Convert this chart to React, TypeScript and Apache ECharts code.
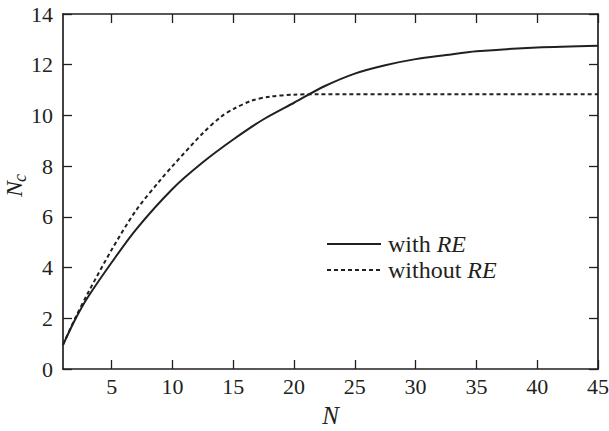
import React, { useEffect, useRef } from "react";
import * as echarts from "echarts";

const nWith = [1, 2, 3, 5, 7, 10, 12.5, 15, 17.5, 20, 22.5, 25, 27.5, 30, 32.5, 35, 40, 45];
const withRE = [0.95, 1.95, 2.8, 4.2, 5.5, 7.1, 8.15, 9.05, 9.85, 10.5, 11.15, 11.65, 11.98, 12.22, 12.38, 12.53, 12.68, 12.75];
const nWithout = [1, 2, 3, 5, 7, 9, 10, 12.5, 14, 15, 16.5, 18, 20, 22, 30, 45];
const withoutRE = [0.95, 2.0, 2.95, 4.7, 6.25, 7.45, 8.0, 9.3, 9.95, 10.25, 10.58, 10.74, 10.82, 10.84, 10.84, 10.84];
const xTicks = [5, 10, 15, 20, 25, 30, 35, 40, 45];
const seriesNames = ["with RE", "without RE"];

const FONT = "Times New Roman";
const INK = "#231f20";

export default function App() {
  const ref = useRef<HTMLDivElement>(null);
  useEffect(() => {
    if (!ref.current) return;
    const chart = echarts.init(ref.current, undefined, { renderer: "svg" });
    const axisLine = { show: true, onZero: false, lineStyle: { color: INK, width: 1.7 } };
    const tick = { show: true, inside: true, length: 9, lineStyle: { color: INK, width: 1.3 } };
    chart.setOption({
      animation: false,
      backgroundColor: "#fff",
      textStyle: { fontFamily: FONT, color: INK },
      grid: { left: 63, right: 11, top: 14, bottom: 62, outerBoundsMode: "none", containLabel: false },
      legend: {
        orient: "vertical",
        left: 321,
        top: 227,
        itemWidth: 54,
        itemHeight: 14,
        itemGap: 2,
        itemStyle: { color: "rgba(0,0,0,0)", borderColor: "rgba(0,0,0,0)", borderWidth: 0, opacity: 0 },
        data: seriesNames,
        textStyle: {
          fontFamily: FONT,
          fontSize: 24,
          color: INK,
          lineHeight: 24,
          padding: [0, 0, 0, 2],
          rich: { i: { fontFamily: FONT, fontSize: 24, fontStyle: "italic", color: INK, lineHeight: 24 } },
        },
        formatter: (name: string) => name.replace("RE", "{i|RE}"),
      },
      xAxis: [
        {
          type: "value",
          min: 1,
          max: 45,
          position: "bottom",
          name: "N",
          nameLocation: "middle",
          nameGap: 34,
          nameTextStyle: { fontFamily: FONT, fontSize: 25, fontStyle: "italic", color: INK },
          axisLine,
          axisTick: { ...tick, customValues: xTicks },
          axisLabel: { customValues: xTicks, fontFamily: FONT, fontSize: 22, color: INK, margin: 6 },
          splitLine: { show: false },
        },
        {
          type: "value",
          min: 1,
          max: 45,
          position: "top",
          axisLine,
          axisTick: { ...tick, customValues: xTicks },
          axisLabel: { show: false },
          splitLine: { show: false },
        },
      ],
      yAxis: [
        {
          type: "value",
          min: 0,
          max: 14,
          interval: 2,
          position: "left",
          axisLine,
          axisTick: tick,
          axisLabel: { fontFamily: FONT, fontSize: 22, color: INK, margin: 10 },
          splitLine: { show: false },
        },
        {
          type: "value",
          min: 0,
          max: 14,
          interval: 2,
          position: "right",
          axisLine,
          axisTick: tick,
          axisLabel: { show: false },
          splitLine: { show: false },
        },
      ],
      graphic: [
        {
          type: "group",
          x: 21,
          y: 189,
          rotation: Math.PI / 2,
          children: [
            {
              type: "text",
              x: 0,
              y: 5,
              style: { text: "N", fontFamily: FONT, fontSize: 24, fontStyle: "italic", fill: INK, textAlign: "center", textVerticalAlign: "bottom" },
            },
            {
              type: "text",
              x: 7,
              y: 8,
              style: { text: "c", fontFamily: FONT, fontSize: 18, fontStyle: "italic", fill: INK, textAlign: "left", textVerticalAlign: "bottom" },
            },
          ],
        },
      ],
      series: [
        {
          name: seriesNames[0],
          type: "line",
          data: nWith.map((n, i) => [n, withRE[i]]),
          smooth: 0.3,
          symbol: "none",
          lineStyle: { color: INK, width: 2 },
          itemStyle: { color: INK },
        },
        {
          name: seriesNames[1],
          type: "line",
          data: nWithout.map((n, i) => [n, withoutRE[i]]),
          smooth: 0.3,
          symbol: "none",
          lineStyle: { color: INK, width: 2, type: [4, 3] },
          itemStyle: { color: INK },
        },
      ],
    });
    return () => chart.dispose();
  }, []);
  return <div ref={ref} style={{ width: 609, height: 431, position: "absolute", left: 0, top: 0 }} />;
}
